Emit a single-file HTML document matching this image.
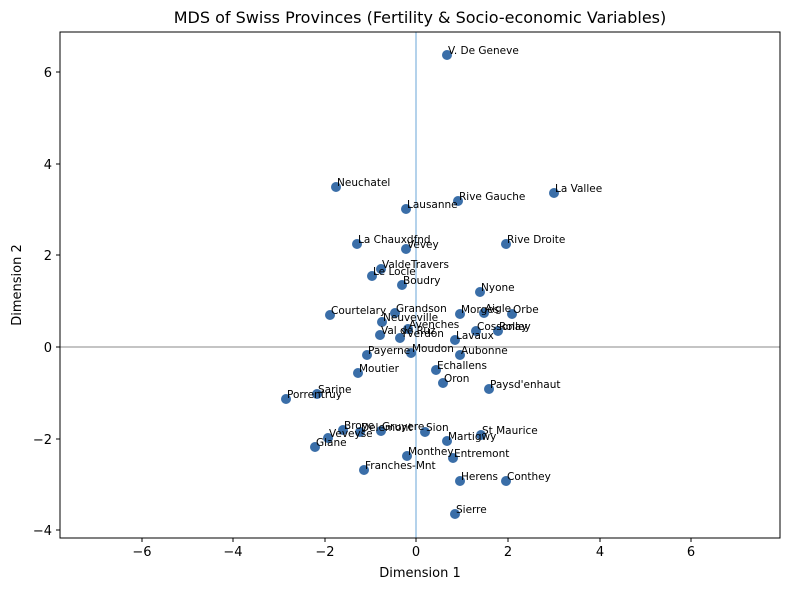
<!DOCTYPE html>
<html><head><meta charset="utf-8"><style>body{margin:0;background:#fff}</style></head><body>
<svg width="790" height="590" xmlns="http://www.w3.org/2000/svg" font-family="DejaVu Sans, Liberation Sans, sans-serif">
<rect width="790" height="590" fill="#fff"/>
<text x="420" y="23" font-size="16" text-anchor="middle">MDS of Swiss Provinces (Fertility &amp; Socio-economic Variables)</text>
<line x1="60" y1="347" x2="780" y2="347" stroke="#888" stroke-width="0.9"/>
<line x1="416" y1="32" x2="416" y2="538" stroke="#5a9bd3" stroke-width="0.9"/>
<g fill="#3a6ea8">
<circle cx="447" cy="55" r="5"/><circle cx="336" cy="187" r="5"/><circle cx="554" cy="193" r="5"/><circle cx="458" cy="201" r="5"/><circle cx="406" cy="209" r="5"/><circle cx="357" cy="244" r="5"/><circle cx="406" cy="249" r="5"/><circle cx="506" cy="244" r="5"/><circle cx="381" cy="269" r="5"/><circle cx="372" cy="276" r="5"/><circle cx="402" cy="285" r="5"/><circle cx="480" cy="292" r="5"/>
<circle cx="330" cy="315" r="5"/><circle cx="395" cy="313" r="5"/><circle cx="382" cy="322" r="5"/><circle cx="380" cy="335" r="5"/><circle cx="408" cy="329" r="5"/><circle cx="400" cy="338" r="5"/><circle cx="460" cy="314" r="5"/><circle cx="484" cy="313" r="5"/><circle cx="512" cy="314" r="5"/><circle cx="476" cy="331" r="5"/><circle cx="498" cy="331" r="5"/><circle cx="455" cy="340" r="5"/><circle cx="367" cy="355" r="5"/><circle cx="411" cy="353" r="5"/><circle cx="460" cy="355" r="5"/><circle cx="358" cy="373" r="5"/><circle cx="436" cy="370" r="5"/><circle cx="443" cy="383" r="5"/><circle cx="489" cy="389" r="5"/><circle cx="317" cy="394" r="5"/><circle cx="286" cy="399" r="5"/>
<circle cx="343" cy="430" r="5"/><circle cx="381" cy="431" r="5"/><circle cx="360" cy="432" r="5"/><circle cx="328" cy="438" r="5"/><circle cx="315" cy="447" r="5"/><circle cx="425" cy="432" r="5"/><circle cx="447" cy="441" r="5"/><circle cx="481" cy="435" r="5"/><circle cx="407" cy="456" r="5"/><circle cx="453" cy="458" r="5"/><circle cx="364" cy="470" r="5"/><circle cx="460" cy="481" r="5"/><circle cx="506" cy="481" r="5"/><circle cx="455" cy="514" r="5"/>
</g>
<g font-size="10.5" fill="#000">
<text x="448" y="54">V. De Geneve</text><text x="337" y="186">Neuchatel</text><text x="555" y="192">La Vallee</text><text x="459" y="200">Rive Gauche</text><text x="407" y="208">Lausanne</text><text x="358" y="243">La Chauxdfnd</text><text x="407" y="248">Vevey</text><text x="507" y="243">Rive Droite</text><text x="382" y="268">ValdeTravers</text><text x="373" y="275">Le Locle</text><text x="403" y="284">Boudry</text><text x="481" y="291">Nyone</text>
<text x="331" y="314">Courtelary</text><text x="396" y="312">Grandson</text><text x="383" y="321">Neuveville</text><text x="381" y="334">Val de Ruz</text><text x="409" y="328">Avenches</text><text x="401" y="337">Yverdon</text><text x="461" y="313">Morges</text><text x="485" y="312">Aigle</text><text x="513" y="313">Orbe</text><text x="477" y="330">Cossonay</text><text x="499" y="330">Rolley</text><text x="456" y="339">Lavaux</text><text x="368" y="354">Payerne</text><text x="412" y="352">Moudon</text><text x="461" y="354">Aubonne</text><text x="359" y="372">Moutier</text><text x="437" y="369">Echallens</text><text x="444" y="382">Oron</text><text x="490" y="388">Paysd'enhaut</text><text x="318" y="393">Sarine</text><text x="287" y="398">Porrentruy</text>
<text x="344" y="429">Broye</text><text x="382" y="430">Gruyere</text><text x="361" y="431">Delemont</text><text x="329" y="437">Veveyse</text><text x="316" y="446">Glane</text><text x="426" y="431">Sion</text><text x="448" y="440">Martigwy</text><text x="482" y="434">St Maurice</text><text x="408" y="455">Monthey</text><text x="454" y="457">Entremont</text><text x="365" y="469">Franches-Mnt</text><text x="461" y="480">Herens</text><text x="507" y="480">Conthey</text><text x="456" y="513">Sierre</text>
</g>
<rect x="60" y="32" width="720" height="506" fill="none" stroke="#000" stroke-width="1"/>
<g stroke="#000" stroke-width="1">
<line x1="142" y1="538" x2="142" y2="542"/><line x1="233" y1="538" x2="233" y2="542"/><line x1="325" y1="538" x2="325" y2="542"/><line x1="416" y1="538" x2="416" y2="542"/><line x1="508" y1="538" x2="508" y2="542"/><line x1="600" y1="538" x2="600" y2="542"/><line x1="691" y1="538" x2="691" y2="542"/>
<line x1="56" y1="72" x2="60" y2="72"/><line x1="56" y1="164" x2="60" y2="164"/><line x1="56" y1="255" x2="60" y2="255"/><line x1="56" y1="347" x2="60" y2="347"/><line x1="56" y1="439" x2="60" y2="439"/><line x1="56" y1="530" x2="60" y2="530"/>
</g>
<g font-size="13" text-anchor="middle">
<text x="142" y="556">−6</text><text x="233" y="556">−4</text><text x="325" y="556">−2</text><text x="416" y="556">0</text><text x="508" y="556">2</text><text x="600" y="556">4</text><text x="691" y="556">6</text>
</g>
<g font-size="13" text-anchor="end">
<text x="52" y="77">6</text><text x="52" y="169">4</text><text x="52" y="260">2</text><text x="52" y="352">0</text><text x="52" y="444">−2</text><text x="52" y="535">−4</text>
</g>
<text x="420" y="577" font-size="13" text-anchor="middle">Dimension 1</text>
<text x="21" y="285" font-size="13" text-anchor="middle" transform="rotate(-90 21 285)">Dimension 2</text>
</svg>
</body></html>
